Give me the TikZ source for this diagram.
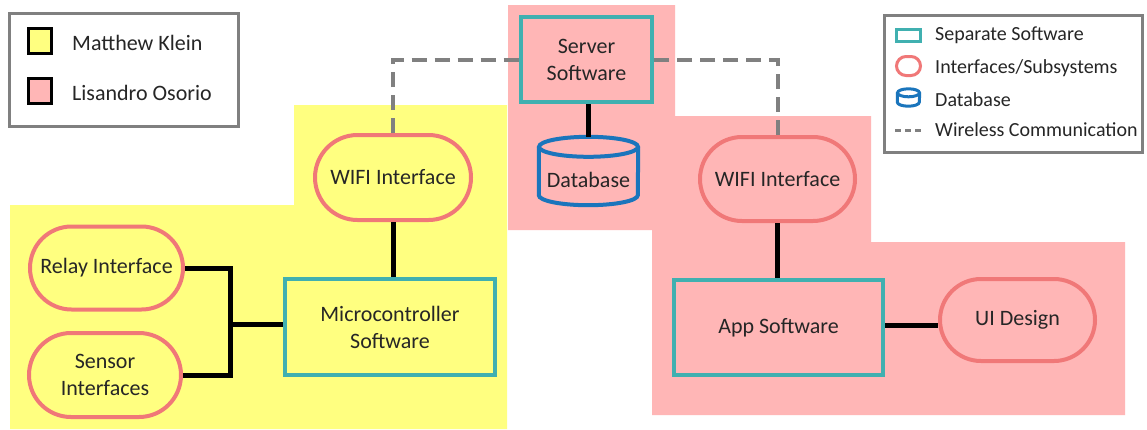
\documentclass[tikz,border=0pt]{standalone}
\usepackage{fontspec}
\setmainfont{Carlito}
\usetikzlibrary{shapes.misc,calc}
\definecolor{zoneY}{HTML}{FFFF80}
\definecolor{zoneP}{HTML}{FFB6B6}
\definecolor{swTeal}{HTML}{40B0B0}
\definecolor{ifSalmon}{HTML}{F07878}
\definecolor{dbBlue}{HTML}{1A75BC}
\definecolor{keyGray}{HTML}{808080}
\definecolor{inkDark}{HTML}{262626}
\begin{document}
\begin{tikzpicture}[x=1pt,y=-1pt,
  txt/.style={font=\fontsize{22}{27}\selectfont, text=inkDark, align=center},
  keytxt/.style={font=\fontsize{20}{24}\selectfont, text=inkDark, anchor=west, inner sep=0},
  software/.style={txt, draw=swTeal, line width=4, inner sep=0},
  iface/.style={txt, rounded rectangle, draw=ifSalmon, line width=4, inner sep=0},
  wire/.style={line width=5, black},
  wireless/.style={draw=keyGray, line width=4, dash pattern=on 15pt off 8pt},
  dbline/.style={draw=dbBlue, line width=4},
  keybox/.style={draw=keyGray, line width=3, inner sep=0},
  swatch/.style={draw=black, line width=3, inner sep=0, minimum width=23, minimum height=25}
]
\useasboundingbox (0,0) rectangle (1147,429);
\fill[white] (0,0) rectangle (1147,429);

% ownership zones
\fill[zoneY] (294,105) -- (507,105) -- (507,429) -- (10,429) -- (10,205) -- (294,205) -- cycle;
\fill[zoneP] (508,5) -- (675,5) -- (675,116) -- (871,116) -- (871,242) -- (1125,242)
  -- (1125,415) -- (652,415) -- (652,230) -- (508,230) -- cycle;

% owners key
\node[keybox, minimum width=229, minimum height=113] (ownkey) at (124,70) {};
\node[swatch, fill=zoneY] (swY) at (40,41) {};
\node[swatch, fill=zoneP] (swP) at (40,91) {};
\node[keytxt, font=\fontsize{22}{26}\selectfont] (nameY) at (72,43) {Matthew Klein};
\node[keytxt, font=\fontsize{22}{26}\selectfont] (nameP) at (72,93) {Lisandro Osorio};

% symbol key
\node[keybox, fill=white, minimum width=258, minimum height=137] (symkey) at (1013.5,84) {};
\node[draw=swTeal, line width=3, inner sep=0, minimum width=24, minimum height=12] (kSw) at (908.5,35.5) {};
\node[rounded rectangle, draw=ifSalmon, line width=3, inner sep=0, minimum width=24, minimum height=19] (kIf) at (908.5,66) {};
\node[inner sep=0, minimum width=22, minimum height=17] (kDb) at (908.5,97.5) {};
\draw[dbBlue, line width=3] ($(kDb.north)+(0,4)$) ellipse [x radius=11, y radius=4];
\draw[dbBlue, line width=3] ($(kDb.north west)+(0,4)$) -- ($(kDb.south west)+(0,-4)$)
  arc[start angle=180, end angle=0, x radius=11, y radius=4] -- ($(kDb.north east)+(0,4)$);
\coordinate (kWa) at (895,130);
\coordinate (kWb) at (922,130);
\draw[keyGray, line width=3, dash pattern=on 6pt off 4pt] (kWa) -- (kWb);
\node[keytxt] (tSw) at (935,35) {Separate Software};
\node[keytxt] (tIf) at (935,68) {Interfaces/Subsystems};
\node[keytxt] (tDb) at (935,100) {Database};
\node[keytxt] (tWl) at (935,130) {Wireless Communication};

% server and database
\node[software, minimum width=131, minimum height=85] (srv) at (586.5,59.5) {Server\\Software};
\node[inner sep=0, minimum width=99, minimum height=68] (db) at (588.5,171) {};
\draw[dbline] ($(db.north)+(0,10)$) ellipse [x radius=49.5, y radius=10];
\draw[dbline] ($(db.north west)+(0,10)$) -- ($(db.south west)+(0,-10)$)
  arc[start angle=180, end angle=0, x radius=49.5, y radius=10] -- ($(db.north east)+(0,10)$);
\node[txt] (dbname) at ($(db.center)+(0,9)$) {Database};

% device side
\node[iface, minimum width=156, minimum height=85] (wifiL) at (393,177.5) {WIFI Interface};
\node[software, minimum width=210, minimum height=96] (micro) at (390,327) {Microcontroller\\Software};
\node[iface, minimum width=153, minimum height=83] (relay) at (106.5,268) {Relay Interface};
\node[iface, minimum width=152, minimum height=84] (sensor) at (105,375) {Sensor\\Interfaces};

% app side
\node[iface, minimum width=155, minimum height=84] (wifiR) at (777.5,179) {WIFI Interface};
\node[software, minimum width=209, minimum height=95] (app) at (778.5,327.5) {App Software};
\node[iface, minimum width=155, minimum height=82] (ui) at (1017.5,320) {UI Design};

% wired links
\coordinate (bus) at (230,324);
\draw[wire] (relay.east) -| (bus) |- (sensor.east);
\draw[wire] (bus) -- (bus -| micro.west);
\draw[wire] (wifiL.south) -- (wifiL.south |- micro.north);
\draw[wire] (db.north |- srv.south) -- (db.north);
\draw[wire] (wifiR.south) -- (wifiR.south |- app.north);
\coordinate (appR) at ($(app.east)+(0,-2)$);
\draw[wire] (appR) -- (appR -| ui.west);

% wireless links
\draw[wireless] (wifiL.north) |- (srv.west);
\draw[wireless] (wifiR.north) |- (srv.east);
\end{tikzpicture}
\end{document}
